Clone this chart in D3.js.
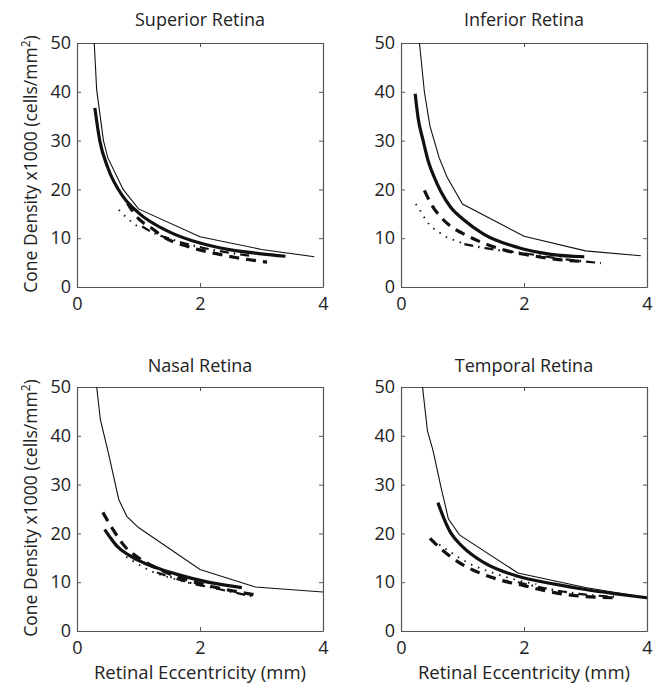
<!DOCTYPE html>
<html>
<head>
<meta charset="utf-8">
<script src="https://cdn.jsdelivr.net/npm/d3@7/dist/d3.min.js"></script>
<style>
  body { margin: 0; background: #fff; }
  svg { display: block; font-family: "Open Sans", sans-serif; }
</style>
</head>
<body>
<script>
// axis ticks
const xTicks = [0, 2, 4];
const yTicks = [0, 10, 20, 30, 40, 50];

// panel titles
const titles = ['Superior Retina', 'Inferior Retina', 'Nasal Retina', 'Temporal Retina'];

// Superior retina [eccentricity mm, density x1000]
const supThin    = [[0.28,50],[0.32,40.4],[0.43,30],[0.5,26.5],[0.75,20],[1.0,16],[2.0,10.3],[3.0,7.7],[3.86,6.2]];
const supThick   = [[0.29,36.7],[0.37,30],[0.5,24.5],[0.75,18.5],[1.0,15.2],[1.5,11.3],[2.0,9.0],[2.5,7.6],[3.0,6.8],[3.39,6.3]];
const supDashed  = [[0.82,17.2],[1.0,14.0],[1.2,12.2],[1.4,10.3],[1.8,8.3],[2.2,7.0],[2.6,6.0],[3.09,5.1]];
const supDotted  = [[0.68,15.8],[0.8,14.3],[0.92,13.0],[1.06,12.0]];
const supDashDot = [[1.06,12.4],[1.18,11.5],[1.63,9.4],[2.06,8.0],[2.39,7.2],[2.82,6.4]];

// Inferior retina
const infThin    = [[0.30,50],[0.38,40],[0.47,33],[0.62,26.5],[0.75,22.5],[1.0,17],[2.0,10.4],[3.0,7.4],[3.9,6.4]];
const infThick   = [[0.23,39.6],[0.28,34.5],[0.36,30],[0.45,25.5],[0.54,22.5],[0.65,19.5],[0.81,16.3],[1.0,14],[1.35,10.8],[1.9,8.1],[2.44,6.7],[2.98,6.2]];
const infDashed  = [[0.38,19.8],[0.5,16.8],[0.65,14.3],[0.87,11.9],[1.0,11],[1.3,9.2],[1.7,7.5],[2.1,6.5],[2.5,5.7],[3.0,5.2]];
const infDotted  = [[0.24,17],[0.33,15.3],[0.41,13.6],[0.52,12.1],[0.62,11.2],[0.76,10.1],[0.89,9.5],[1.03,8.8]];
const infDashDot = [[1.03,8.8],[1.4,7.9],[2.0,6.9],[2.6,5.8],[3.25,4.9]];

// Nasal retina
const nasThin    = [[0.32,50],[0.38,43.3],[0.51,36.5],[0.68,26.9],[0.81,23.5],[1.0,21.2],[2.0,12.6],[2.9,9.0],[4.0,8.0]];
const nasThick   = [[0.45,20.8],[0.55,19],[0.65,17.4],[0.85,15.5],[1.08,14],[1.35,12.7],[1.63,11.6],[2.17,9.9],[2.68,8.9]];
const nasDashed  = [[0.42,24.3],[0.6,20.5],[0.8,17],[1.0,15],[1.4,12.3],[2.0,9.7],[2.5,8.3],[2.9,7.4]];
const nasDotted  = [[0.8,15.2],[1.2,12.3],[1.6,10.6],[2.0,9.3]];
const nasDashDot = [[1.3,12.0],[1.8,10.0],[2.3,8.6],[2.85,7.1]];

// Temporal retina
const temThin    = [[0.35,50],[0.43,41],[0.52,37],[0.65,29.5],[0.77,23],[0.95,19.7],[1.9,11.9],[3.0,8.9],[4.0,6.8]];
const temThick   = [[0.6,26.3],[0.7,23],[0.81,20.1],[1.0,17.3],[1.35,14],[1.9,11.2],[2.5,9.6],[3.0,8.5],[3.5,7.6],[4.0,6.8]];
const temDashed  = [[0.47,19],[0.7,16.3],[1.0,13.6],[1.3,11.8],[1.6,10.5],[2.0,9.3],[2.4,8.1],[2.8,7.3],[3.2,6.9],[3.53,6.8]];
const temDotted  = [[0.52,18.6],[0.8,16.2],[1.1,13.9],[1.5,11.9],[1.9,10.4],[2.2,9.6]];
const temDashDot = [[1.9,10.0],[2.4,8.6],[2.9,7.6],[3.5,7.0]];

const panelData = [
  [supThin, supThick, supDashed, supDotted, supDashDot],
  [infThin, infThick, infDashed, infDotted, infDashDot],
  [nasThin, nasThick, nasDashed, nasDotted, nasDashDot],
  [temThin, temThick, temDashed, temDotted, temDashDot]
];

// line styles: thin ref, thick, dashed, dotted, dash-dot
const styles = [
  { w: 1.1, dash: null, curve: d3.curveLinear },
  { w: 3.2, dash: null, curve: d3.curveMonotoneX },
  { w: 3.2, dash: '10,7', curve: d3.curveMonotoneX },
  { w: 1.8, dash: '1.5,6', curve: d3.curveMonotoneX },
  { w: 2.2, dash: '9,5,1.5,5', curve: d3.curveMonotoneX }
];

const W = 669, H = 684;
const pw = 246, ph = 244;
const lefts = [77, 401, 77, 401];
const tops = [43, 43, 387, 387];
const frameColor = '#555';

const svg = d3.select('body').append('svg')
  .attr('width', W)
  .attr('height', H);

const x = d3.scaleLinear().domain([0, 4]).range([0, pw]);
const y = d3.scaleLinear().domain([0, 50]).range([ph, 0]);

panelData.forEach((series, i) => {
  const g = svg.append('g')
    .attr('transform', `translate(${lefts[i]},${tops[i]})`);

  g.append('clipPath').attr('id', `clip${i}`)
    .append('rect').attr('width', pw).attr('height', ph);

  // axes, ticks drawn inward like the original
  const left = g.append('g').call(d3.axisLeft(y).tickValues(yTicks).tickSize(-4).tickSizeOuter(0).tickPadding(6).tickFormat(d3.format('d')));
  const right = g.append('g').attr('transform', `translate(${pw},0)`)
    .call(d3.axisRight(y).tickValues(yTicks).tickSize(-4).tickSizeOuter(0).tickFormat(''));
  const top = g.append('g')
    .call(d3.axisTop(x).tickValues(xTicks).tickSize(-4).tickSizeOuter(0).tickFormat(''));
  const bottom = g.append('g').attr('transform', `translate(0,${ph})`)
    .call(d3.axisBottom(x).tickValues(xTicks).tickSize(-4).tickSizeOuter(0).tickPadding(10).tickFormat(d3.format('d')));

  [left, right, top, bottom].forEach(a => {
    a.select('.domain').attr('stroke', frameColor).attr('stroke-width', 1.2);
    a.selectAll('.tick line').attr('stroke', frameColor);
    a.selectAll('.tick text')
      .attr('fill', '#222')
      .style('font-size', '18px')
      .style('font-family', '"Open Sans", sans-serif');
  });

  const plot = g.append('g').attr('clip-path', `url(#clip${i})`);
  series.forEach((pts, k) => {
    const st = styles[k];
    const line = d3.line().x(d => x(d[0])).y(d => y(d[1])).curve(st.curve);
    plot.append('path')
      .datum(pts)
      .attr('d', line)
      .attr('fill', 'none')
      .attr('stroke', '#111')
      .attr('stroke-width', st.w)
      .attr('stroke-dasharray', st.dash)
      .attr('stroke-linecap', 'butt');
  });

  g.append('text')
    .attr('x', pw / 2)
    .attr('y', i < 2 ? -17 : -15)
    .attr('text-anchor', 'middle')
    .style('font-size', '18px')
    .attr('fill', '#222')
    .text(titles[i]);

  if (i % 2 === 0) {
    const yl = g.append('text')
      .attr('text-anchor', 'middle')
      .attr('transform', `translate(-40,${ph / 2 - 1}) rotate(-90)`)
      .style('font-size', '17.5px')
      .attr('fill', '#222');
    yl.append('tspan').text('Cone Density x1000 (cells/mm');
    yl.append('tspan').attr('dy', -7).style('font-size', '12px').text('2');
    yl.append('tspan').attr('dy', 7).text(')');
  }
  if (i >= 2) {
    g.append('text')
      .attr('x', pw / 2)
      .attr('y', ph + 47.5)
      .attr('text-anchor', 'middle')
      .style('font-size', '18.5px')
      .attr('fill', '#222')
      .text('Retinal Eccentricity (mm)');
  }
});
</script>
</body>
</html>
